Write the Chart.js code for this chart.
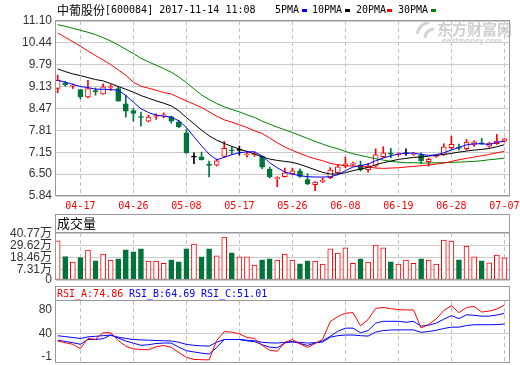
<!DOCTYPE html>
<html>
<head>
<meta charset="utf-8">
<script src="https://cdn.jsdelivr.net/npm/chart.js@4.4.1/dist/chart.umd.min.js"></script>
<style>
  body { margin: 0; background: #fff; }
  #wrap { position: relative; width: 520px; height: 365px; overflow: hidden; background: #fff; }
  canvas { position: absolute; left: 0; }
</style>
</head>
<body>
<div id="wrap">
  <canvas id="k" width="520" height="212" style="top:0"></canvas>
  <canvas id="vol" width="520" height="72" style="top:212px"></canvas>
  <canvas id="rsi" width="520" height="81" style="top:284px"></canvas>
</div>
<script>
// axes
const dateTicks = [3, 10, 17, 24, 31, 38, 45, 52, 59];
const dateLabels = ["04-17", "04-26", "05-08", "05-17", "05-26", "06-08", "06-19", "06-28", "07-07"];
const priceTicks = [11.10, 10.44, 9.79, 9.13, 8.47, 7.81, 7.15, 6.50, 5.84];
const volTicks = [7.31, 18.46, 29.62, 40.77];
const rsiTicks = [80, 40, -1];

// daily candles (04-12 .. 07-07)
const openP  = [9.07, 9.24, 9.14, 9.04, 8.82, 9.01, 8.91, 9.10, 9.07, 8.61, 8.41, 8.22, 8.09, 8.23, 8.25, 8.22, 8.07, 7.74, 7.01, 7.02,
                6.78, 6.77, 7.03, 7.22, 7.21, 7.08, 7.08, 7.03, 6.65, 6.36, 6.42, 6.50, 6.60, 6.33, 6.18, 6.28, 6.39, 6.54, 6.74, 6.79,
                6.78, 6.63, 6.74, 7.02, 7.12, 7.08, 7.11, 7.10, 7.07, 6.87, 7.03, 7.09, 7.29, 7.31, 7.26, 7.39, 7.43, 7.34, 7.41, 7.49];
const highP  = [9.47, 9.29, 9.21, 9.05, 9.32, 9.09, 9.21, 9.19, 9.12, 8.87, 8.47, 8.36, 8.27, 8.31, 8.34, 8.24, 8.11, 7.84, 7.14, 7.16,
                6.89, 6.95, 7.48, 7.31, 7.34, 7.19, 7.16, 7.05, 6.71, 6.42, 6.68, 6.68, 6.66, 6.51, 6.27, 6.39, 6.69, 6.78, 7.01, 6.86,
                6.89, 6.82, 7.26, 7.32, 7.27, 7.14, 7.26, 7.15, 7.14, 6.98, 7.08, 7.41, 7.64, 7.40, 7.54, 7.50, 7.57, 7.45, 7.69, 7.57];
const lowP   = [8.94, 9.14, 9.07, 8.76, 8.79, 8.87, 8.90, 9.01, 8.69, 8.21, 8.09, 7.94, 8.07, 8.14, 8.19, 8.03, 7.89, 7.12, 6.81, 6.92,
                6.41, 6.74, 7.00, 7.09, 7.07, 7.01, 7.03, 6.66, 6.38, 6.12, 6.41, 6.48, 6.40, 6.18, 6.00, 6.24, 6.36, 6.51, 6.69, 6.76,
                6.59, 6.56, 6.71, 6.99, 6.99, 7.04, 7.06, 7.06, 6.81, 6.74, 7.00, 7.06, 7.24, 7.22, 7.22, 7.33, 7.39, 7.30, 7.39, 7.46];
const closeP = [9.32, 9.19, 9.15, 8.82, 9.07, 8.97, 9.12, 9.13, 8.69, 8.39, 8.32, 8.20, 8.21, 8.25, 8.27, 8.09, 7.92, 7.14, 7.01, 6.93,
                6.76, 6.90, 7.27, 7.20, 7.21, 7.10, 7.10, 6.71, 6.41, 6.38, 6.54, 6.60, 6.43, 6.21, 6.26, 6.31, 6.62, 6.72, 6.81, 6.82,
                6.63, 6.75, 7.08, 7.14, 7.10, 7.10, 7.11, 7.12, 6.90, 6.94, 7.05, 7.32, 7.39, 7.28, 7.46, 7.47, 7.41, 7.43, 7.49, 7.56];

// moving averages as drawn
const ma5  = [9.32, 9.26, 9.20, 9.13, 9.10, 9.05, 9.05, 9.04, 9.02, 8.86, 8.66, 8.46, 8.35, 8.27, 8.24, 8.21, 8.10, 7.90, 7.62, 7.35,
              7.10, 6.93, 7.00, 7.08, 7.14, 7.17, 7.17, 7.04, 6.84, 6.69, 6.56, 6.50, 6.45, 6.42, 6.41, 6.41, 6.42, 6.48, 6.60, 6.71,
              6.75, 6.80, 6.90, 6.98, 7.05, 7.10, 7.13, 7.13, 7.09, 7.06, 7.08, 7.14, 7.22, 7.30, 7.38, 7.41, 7.41, 7.39, 7.45, 7.49];
const ma10 = [9.66, 9.58, 9.51, 9.46, 9.40, 9.34, 9.30, 9.22, 9.13, 9.05, 8.96, 8.86, 8.78, 8.70, 8.63, 8.55, 8.40, 8.20, 8.01, 7.82,
              7.65, 7.52, 7.42, 7.33, 7.25, 7.18, 7.10, 7.02, 6.95, 6.91, 6.88, 6.85, 6.79, 6.71, 6.63, 6.55, 6.50, 6.50, 6.54, 6.60,
              6.65, 6.70, 6.78, 6.84, 6.89, 6.94, 6.97, 7.00, 7.01, 7.04, 7.06, 7.09, 7.12, 7.16, 7.19, 7.22, 7.24, 7.27, 7.32, 7.38];
const ma20 = [10.74, 10.61, 10.48, 10.34, 10.20, 10.06, 9.93, 9.79, 9.63, 9.47, 9.26, 9.14, 9.08, 9.02, 8.95, 8.91, 8.80, 8.70, 8.60, 8.50,
              8.37, 8.24, 8.13, 8.06, 7.98, 7.90, 7.80, 7.72, 7.58, 7.44, 7.31, 7.21, 7.12, 7.03, 6.96, 6.90, 6.82, 6.78, 6.75, 6.74,
              6.73, 6.71, 6.68, 6.67, 6.68, 6.69, 6.71, 6.73, 6.75, 6.77, 6.80, 6.83, 6.88, 6.93, 6.97, 7.01, 7.05, 7.09, 7.14, 7.18];
const ma30 = [10.99, 10.94, 10.88, 10.82, 10.76, 10.69, 10.60, 10.50, 10.38, 10.25, 10.12, 9.98, 9.87, 9.77, 9.67, 9.56, 9.42, 9.25, 9.06, 8.88,
              8.74, 8.62, 8.52, 8.44, 8.37, 8.28, 8.20, 8.09, 8.00, 7.91, 7.83, 7.75, 7.66, 7.57, 7.48, 7.40, 7.32, 7.26, 7.18, 7.11,
              7.06, 7.01, 6.96, 6.92, 6.88, 6.86, 6.84, 6.84, 6.83, 6.83, 6.84, 6.84, 6.85, 6.86, 6.87, 6.88, 6.90, 6.93, 6.95, 6.98];

// volume, in 万
const volume = [33.8, 19.1, 13.9, 18.2, 25.1, 15.1, 21.4, 15.7, 17.0, 25.4, 23.5, 26.3, 14.8, 14.8, 12.9, 16.0, 14.2, 26.3, 30.7, 18.8,
                26.3, 19.8, 37.3, 22.6, 18.8, 18.8, 11.1, 16.0, 17.0, 15.7, 21.4, 15.7, 12.3, 15.1, 14.8, 12.0, 26.3, 22.3, 27.3, 12.9,
                17.0, 13.9, 29.8, 27.3, 14.2, 12.0, 15.7, 12.9, 17.0, 15.7, 12.0, 34.5, 33.5, 16.0, 28.9, 18.8, 15.1, 13.2, 20.4, 17.9];

// RSI
const rsiA = [26.8, 23.8, 21.1, 13.6, 31.1, 29.7, 41.0, 41.0, 27.6, 17.8, 13.2, 12.1, 11.6, 16.7, 19.1, 15.7, 6.9, -1.5, -5.0, -5.5,
              -5.8, 27.6, 42.9, 42.1, 39.0, 32.8, 31.2, 19.3, 11.0, 9.0, 24.5, 29.1, 21.9, 15.7, 22.4, 29.7, 60.2, 69.0, 74.6, 75.7,
              52.9, 63.8, 82.8, 84.6, 82.4, 80.8, 80.3, 80.3, 49.3, 55.5, 64.8, 79.3, 87.6, 75.7, 84.5, 86.3, 76.7, 78.3, 81.9, 88.7];
const rsiB = [28.0, 26.0, 23.9, 21.0, 29.3, 29.3, 30.7, 37.0, 31.7, 26.6, 23.0, 19.3, 20.3, 22.4, 23.2, 23.2, 16.2, 10.0, 7.9, 5.8,
              4.3, 15.2, 29.3, 29.3, 29.3, 27.1, 25.6, 20.4, 16.2, 15.0, 23.2, 26.0, 22.4, 19.1, 23.2, 27.1, 34.8, 43.6, 48.9, 48.9,
              41.0, 44.7, 57.6, 60.7, 60.7, 60.7, 59.1, 60.7, 52.4, 54.0, 57.6, 64.3, 70.5, 65.3, 72.0, 71.0, 69.6, 69.6, 71.5, 74.4];
const rsiC = [35.8, 34.3, 32.8, 31.1, 33.9, 34.8, 35.9, 37.0, 33.3, 31.2, 29.3, 28.6, 28.1, 27.6, 27.1, 26.8, 24.5, 20.9, 19.3, 18.3,
              17.9, 24.5, 29.3, 29.3, 29.3, 28.1, 27.1, 24.5, 23.5, 23.2, 24.5, 25.0, 24.5, 23.2, 23.9, 25.0, 33.3, 35.9, 37.0, 37.0,
              35.9, 35.2, 42.1, 44.7, 45.7, 45.9, 45.9, 45.9, 41.6, 43.1, 45.2, 48.3, 50.6, 50.6, 53.4, 54.8, 54.8, 54.8, 55.0, 56.0];
const rsiLast = ["74.86", "64.69", "51.01"];

// styles / layout
const RED = "#ff0000", GREEN = "#00743a", BLACK = "#000000", BLUE = "#0000ff", MAGREEN = "#008000";
const FRAME = "#999999", HGRID = "#cccccc", VGRID = "#c2c2c2";
const MONO = '"DejaVu Sans Mono", "Liberation Mono", monospace';
const SANS = '"Liberation Sans", "Noto Sans CJK SC", sans-serif';
const CJK = '"Noto Sans CJK SC", sans-serif';
const X_MIN = -0.22, X_MAX = 59.74;
const VOL_MIN = -2.72, VOL_MAX = 41.0;
const RSI_MIN = -11.2, RSI_MAX = 95.7;

const pts = arr => arr.map((v, i) => ({ x: i, y: v }));
const candleColor = i => closeP[i] > openP[i] ? RED : (closeP[i] < openP[i] ? GREEN : BLACK);
const bodyFill = i => closeP[i] > openP[i] ? "#ffffff" : candleColor(i);
const volUp = i => closeP[i] >= openP[i];

function xAxis(h, showLabels) {
    return {
        type: "linear", min: X_MIN, max: X_MAX, offset: false, bounds: "data",
        afterBuildTicks: s => { s.ticks = dateTicks.map(v => ({ value: v })); },
        afterFit: s => { s.height = h; s.paddingLeft = 0; s.paddingRight = 0; },
        grid: { color: VGRID, lineWidth: 1, drawTicks: false, offset: false },
        border: { display: false, dash: [4, 3] },
        ticks: {
            display: showLabels, autoSkip: false, maxRotation: 0, padding: 4,
            color: RED, font: { family: MONO, size: 10 },
            callback: (v, i) => dateLabels[i]
        }
    };
}

function yAxis(min, max, ticks, label, gridColor) {
    return {
        type: "linear", min: min, max: max, beginAtZero: false, bounds: "data",
        afterBuildTicks: s => { s.ticks = ticks.map(v => ({ value: v })); },
        afterFit: s => { s.width = 56; s.paddingTop = 0; s.paddingBottom = 0; },
        grid: { color: gridColor, lineWidth: 1, drawTicks: false },
        border: { display: false },
        ticks: { autoSkip: false, padding: 4, color: "#333", font: { family: SANS, size: 12 }, callback: label }
    };
}

function frame(ctx, a, boxTop) {
    const l = a.left - 0.5, r = a.right - 0.5, t = a.top - 0.5, b = a.bottom - 0.5;
    ctx.strokeStyle = FRAME;
    ctx.lineWidth = 1;
    ctx.strokeRect(l, t, r - l, b - t);
    if (boxTop !== undefined) ctx.strokeRect(l, boxTop + 0.5, r - l, t - boxTop - 0.5);
}

const baseOpts = {
    responsive: false, animation: false, devicePixelRatio: 1,
    events: [],
    plugins: { legend: { display: false }, tooltip: { enabled: false } }
};

// ---- K line panel ----
const kDecor = {
    id: "kDecor",
    beforeDatasetsDraw(chart) {
        const ctx = chart.ctx;
        ctx.save();
        ctx.fillStyle = "#cfcfcf";
        ctx.strokeStyle = "#d2d2d2";
        ctx.lineWidth = 3;
        ctx.beginPath(); ctx.arc(431, 36, 14, Math.PI * 1.05, Math.PI * 1.45); ctx.stroke();
        ctx.beginPath(); ctx.arc(434, 38, 9, Math.PI * 1.0, Math.PI * 1.5); ctx.stroke();
        ctx.font = "bold 15px " + CJK;
        ctx.textBaseline = "middle";
        ctx.fillText("东方财富网", 437, 29);
        ctx.font = "bold 8px " + SANS;
        ctx.fillText("eastmoney.com", 442, 41);
        ctx.restore();
    },
    afterDraw(chart) {
        const ctx = chart.ctx;
        ctx.save();
        frame(ctx, chart.chartArea);
        ctx.fillStyle = "#000";
        ctx.textBaseline = "middle";
        ctx.font = "12px " + CJK;
        ctx.fillText("中葡股份", 57, 10.5);
        ctx.font = "10px " + MONO;
        ctx.fillText("[600084] 2017-11-14 11:08", 105, 10.5);
        const legend = [["5PMA", 275, 302, BLUE], ["10PMA", 312, 345, BLACK], ["20PMA", 356, 387, RED], ["30PMA", 398, 431, MAGREEN]];
        legend.forEach(([t, x, bx, c]) => {
            ctx.fillStyle = "#000";
            ctx.fillText(t, x, 10.5);
            ctx.fillStyle = c;
            ctx.fillRect(bx, 9, 5, 3);
        });
        ctx.restore();
    }
};

new Chart(document.getElementById("k"), {
    type: "bar",
    data: {
        datasets: [
            { type: "line", data: pts(ma5), borderColor: BLUE, borderWidth: 1, pointRadius: 0, order: 0 },
            { type: "line", data: pts(ma10), borderColor: BLACK, borderWidth: 1, pointRadius: 0, order: 0 },
            { type: "line", data: pts(ma20), borderColor: RED, borderWidth: 1, pointRadius: 0, order: 0 },
            { type: "line", data: pts(ma30), borderColor: MAGREEN, borderWidth: 1, pointRadius: 0, order: 0 },
            {
                type: "bar", order: 1, grouped: false, barThickness: 5, minBarLength: 1,
                data: openP.map((o, i) => ({ x: i, y: [o, closeP[i]] })),
                backgroundColor: openP.map((o, i) => bodyFill(i)),
                borderColor: openP.map((o, i) => candleColor(i)),
                borderWidth: 1, borderSkipped: false
            },
            {
                type: "bar", order: 2, grouped: false, barThickness: 1,
                data: lowP.map((l, i) => ({ x: i, y: [l, highP[i]] })),
                backgroundColor: lowP.map((l, i) => candleColor(i)),
                borderWidth: 0
            }
        ]
    },
    options: Object.assign({}, baseOpts, {
        layout: { padding: { left: 0, right: 10, top: 21, bottom: 0 } },
        scales: {
            x: xAxis(16, true),
            y: yAxis(5.84, 11.10, priceTicks, v => v.toFixed(2), HGRID)
        }
    }),
    plugins: [kDecor]
});

// ---- volume panel ----
const volDecor = {
    id: "volDecor",
    afterDraw(chart) {
        const ctx = chart.ctx;
        ctx.save();
        frame(ctx, chart.chartArea, 2);
        ctx.fillStyle = "#000";
        ctx.textBaseline = "middle";
        ctx.font = "13px " + CJK;
        ctx.fillText("成交量", 57, 11.5);
        ctx.restore();
    }
};

new Chart(document.getElementById("vol"), {
    type: "bar",
    data: {
        datasets: [{
            data: pts(volume), base: VOL_MIN, grouped: false, barThickness: 5,
            backgroundColor: volume.map((v, i) => volUp(i) ? "#ffffff" : GREEN),
            borderColor: volume.map((v, i) => volUp(i) ? RED : GREEN),
            borderWidth: 1, borderSkipped: false
        }]
    },
    options: Object.assign({}, baseOpts, {
        layout: { padding: { left: 0, right: 10, top: 21, bottom: 0 } },
        scales: {
            x: xAxis(4, false),
            y: yAxis(VOL_MIN, VOL_MAX, [VOL_MIN].concat(volTicks),
                v => v === VOL_MIN ? "0" : v.toFixed(2) + "万", HGRID)
        }
    }),
    plugins: [volDecor]
});

// ---- RSI panel ----
const rsiDecor = {
    id: "rsiDecor",
    afterDraw(chart) {
        const ctx = chart.ctx;
        ctx.save();
        frame(ctx, chart.chartArea, 2);
        ctx.textBaseline = "middle";
        ctx.font = "10px " + MONO;
        ctx.fillStyle = RED;
        ctx.fillText("RSI_A:" + rsiLast[0], 57, 10);
        ctx.fillStyle = BLUE;
        ctx.fillText("RSI_B:" + rsiLast[1], 129, 10);
        ctx.fillText("RSI_C:" + rsiLast[2], 201, 10);
        ctx.restore();
    }
};

new Chart(document.getElementById("rsi"), {
    type: "line",
    data: {
        datasets: [
            { data: pts(rsiA), borderColor: RED, borderWidth: 1, pointRadius: 0 },
            { data: pts(rsiB), borderColor: BLUE, borderWidth: 1, pointRadius: 0 },
            { data: pts(rsiC), borderColor: BLUE, borderWidth: 1, pointRadius: 0 }
        ]
    },
    options: Object.assign({}, baseOpts, {
        layout: { padding: { left: 0, right: 10, top: 17, bottom: 0 } },
        scales: {
            x: xAxis(2, false),
            y: yAxis(RSI_MIN, RSI_MAX, rsiTicks, v => String(v),
                ctx => (ctx.tick && ctx.tick.value === 40) ? HGRID : "rgba(0,0,0,0)")
        }
    }),
    plugins: [rsiDecor]
});
</script>
</body>
</html>
